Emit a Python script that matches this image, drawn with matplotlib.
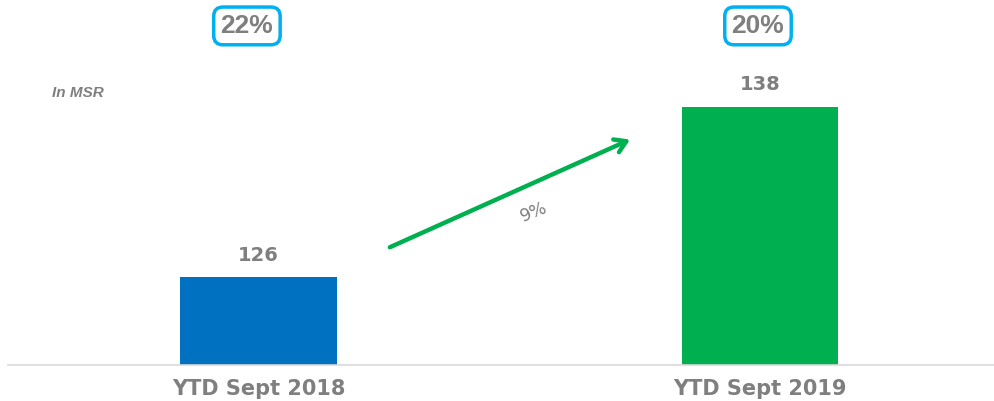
import matplotlib
matplotlib.use("Agg")
import matplotlib.pyplot as plt

# data
categories = ["YTD Sept 2018", "YTD Sept 2019"]
values = [126, 138]
shares = ["22%", "20%"]
growth = "9%"

GRAY = "#7f7f7f"
BLUE = "#0070c0"
GREEN = "#00b050"
BOX_BLUE = "#00b0f0"

fig = plt.figure(figsize=(9.95, 4.01), dpi=100)
ax = fig.add_axes([0.008, 0.0898, 0.992, 0.9102])

x = list(range(len(categories)))
bars = ax.bar(x, values, width=0.313, color=[BLUE, GREEN], zorder=2)

ax.set_xlim(-0.4995, 1.4686)
ax.set_ylim(119.79, 145.55)

# value labels
for xi, v in zip(x, values):
    ax.annotate(str(v), (xi, v), xytext=(0, 9), textcoords="offset points",
                ha="center", va="bottom", fontsize=14, fontweight="bold",
                color=GRAY, family="DejaVu Sans")

# share boxes above bars
trans = ax.get_xaxis_transform()
for xi, s, dx in zip(x, shares, [-0.023, -0.004]):
    ax.text(xi + dx, 0.929, s, transform=trans, ha="center", va="center",
            fontsize=19, fontweight="bold", color=GRAY, family="Liberation Sans",
            bbox=dict(boxstyle="round,pad=0.26,rounding_size=0.35",
                      fc="white", ec=BOX_BLUE, lw=2.5))

# growth arrow
ax.annotate("", xy=(0.741, 135.7), xytext=(0.262, 128.1),
            arrowprops=dict(arrowstyle="->,head_length=0.8,head_width=0.5",
                            color=GREEN, lw=3.2, shrinkA=0, shrinkB=0))
ax.text(0.549, 130.6, growth, rotation=22, ha="center", va="center",
        fontsize=12.5, color=GRAY, family="DejaVu Sans")

fig.text(0.052, 0.768, "In MSR", ha="left", va="center", fontsize=11,
         fontweight="bold", fontstyle="italic", color=GRAY,
         family="Liberation Sans")

# axes styling
for side in ["top", "left", "right"]:
    ax.spines[side].set_visible(False)
ax.spines["bottom"].set_color("#d9d9d9")
ax.spines["bottom"].set_linewidth(1.2)
ax.set_yticks([])
ax.set_xticks(x)
ax.set_xticklabels(categories, fontsize=15, fontweight="bold", color=GRAY,
                   family="DejaVu Sans")
ax.tick_params(axis="x", length=0, pad=10)
ax.patch.set_visible(False)

fig.savefig("out.png", dpi=100)
